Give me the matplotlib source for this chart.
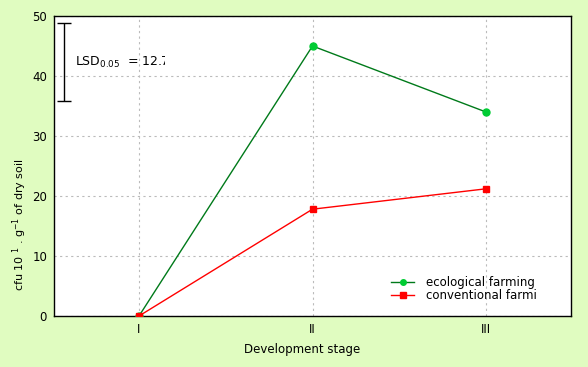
import matplotlib
matplotlib.use("Agg")
import matplotlib.pyplot as plt
from matplotlib.patches import Rectangle

# data
stages = ["I", "II", "III"]
ecological = [0.0, 45.0, 34.0]
conventional = [0.0, 17.8, 21.2]
lsd_low = 35.8
lsd_high = 48.8
lsd_x = 0.57

bg = "#E0FCC0"

fig = plt.figure(figsize=(5.88, 3.67), dpi=100, facecolor=bg)
ax = fig.add_axes([54 / 588, 1 - 316 / 367, (571 - 54) / 588, (316 - 16) / 367])
ax.set_facecolor("white")

x = list(range(1, len(stages) + 1))
ax.plot(x, ecological, color="#007A1A", lw=1, marker="o", ms=5,
        mfc="#00CC33", mec="#00CC33", label="ecological farming", zorder=3)
ax.plot(x, conventional, color="#FF0000", lw=1, marker="s", ms=5,
        mfc="#FF0000", mec="#FF0000", label="conventional farmi", zorder=3)

# LSD error bar, label is cut off in the original
ax.errorbar([lsd_x], [(lsd_low + lsd_high) / 2], yerr=[(lsd_high - lsd_low) / 2],
            color="black", lw=1, capsize=5, capthick=1, zorder=4)
txt = ax.text(0.63, 42.3, "LSD$_{0.05}$  = 12.7", fontsize=9, va="center", ha="left")
clip = Rectangle((0.6, 38), 1.15 - 0.6, 8, transform=ax.transData, visible=False)
ax.add_patch(clip)
txt.set_clip_on(True)
txt.set_clip_path(clip)

ax.set_xlim(0.51, 3.49)
ax.set_ylim(0, 50)
ax.set_xticks(x)
ax.set_xticklabels(stages)
ax.set_yticks(range(0, 51, 10))
ax.tick_params(length=0, labelsize=8.5, pad=5)
ax.grid(True, color="#BBBBBB", ls=(0, (2, 3)), lw=0.8)
ax.set_axisbelow(True)
for s in ax.spines.values():
    s.set_color("black")
    s.set_linewidth(1)

fig.text(302 / 588, 1 - 349 / 367, "Development stage", fontsize=8.5,
         ha="center", va="center")
fig.text(20 / 588, 1 - 225 / 367, "cfu 10 $^{1}$ . g$^{-1}$ of dry soil",
         fontsize=8, rotation=90, ha="center", va="center")

leg = ax.legend(loc="lower right", bbox_to_anchor=(0.955, 0.01), frameon=False,
                fontsize=8.5, handlelength=2.0, handletextpad=1.0, labelspacing=0.05,
                markerscale=0.8)

fig.savefig("out.png", dpi=100, facecolor=bg)
